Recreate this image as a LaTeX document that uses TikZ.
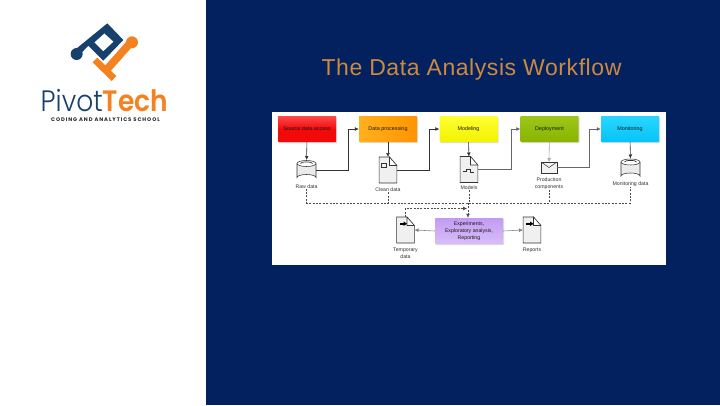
\documentclass[tikz,border=0pt]{standalone}
\usepackage{fontspec}
\setmainfont{Liberation Sans}
\newfontfamily\logofont{Poppins}
\usetikzlibrary{arrows.meta,shadows,positioning}
\definecolor{navy}{HTML}{03215F}
\definecolor{logoblue}{HTML}{17406D}
\definecolor{logoorange}{HTML}{F58220}
\definecolor{titleorange}{HTML}{CC8A3E}
\definecolor{stagered}{HTML}{F20A0A}
\definecolor{stageredl}{HTML}{FF4A4A}
\definecolor{stageor}{HTML}{FF9400}
\definecolor{stageorl}{HTML}{FFB01E}
\definecolor{stageye}{HTML}{F2F200}
\definecolor{stageyel}{HTML}{FFFF33}
\definecolor{stagegr}{HTML}{8AB400}
\definecolor{stagegrl}{HTML}{9CC61A}
\definecolor{stagecy}{HTML}{05C3F7}
\definecolor{stagecyl}{HTML}{2AD6FF}
\definecolor{stagepu}{HTML}{C39AF2}
\definecolor{stagepul}{HTML}{D8BEF8}
\tikzset{
  stagebox/.style={minimum width=58pt,minimum height=26pt,inner sep=0pt,rounded corners=0.6pt,font=\fontsize{5.4}{6}\selectfont,text=black!90,
    drop shadow={shadow xshift=1pt,shadow yshift=-1pt,fill=black!30,opacity=.45}},
  iconspot/.style={minimum width=#1,inner sep=0pt,outer sep=0pt},
  lbl/.style={font=\fontsize{5.2}{7}\selectfont,text=black!80,align=center,inner sep=0pt},
  link/.style={draw=black!80,line width=0.55pt,-{Latex[length=4pt,width=3.8pt]}},
  dlink/.style={draw=black!70,line width=0.45pt,dash pattern=on 2pt off 1.4pt},
  dlinkarrow/.style={dlink,-{Latex[length=4pt,width=3.8pt]}},
  iconline/.style={draw=black!80,line width=0.55pt,fill=white},
}
\newcommand{\cylicon}[1]{%
  \begin{scope}[shift={(#1.center)}]
    \fill[black!8] (-9.5,-7) -- (-9.5,7) arc[start angle=180,end angle=360,x radius=9.5,y radius=3] -- (9.5,-7) -- cycle;
    \draw[iconline,fill=none] (-9.5,-7) -- (-9.5,7) arc[start angle=180,end angle=360,x radius=9.5,y radius=3] -- (9.5,-7);
    \draw[iconline,fill=white] (0,-7) ellipse[x radius=9.5,y radius=3];
    \draw[draw=black!80,line width=0.7pt] (-6,-7) arc[start angle=180,end angle=360,x radius=6,y radius=1.6];
  \end{scope}}
\newcommand{\docicon}[2]{%
  \begin{scope}[shift={(#1.center)}]
    \draw[iconline,fill=black!6] (-8.8,-13) -- (1.5,-13) -- (8.8,-4.5) -- (8.8,13) -- (-8.8,13) -- cycle;
    \draw[iconline,fill=white] (1.5,-13) -- (1.5,-4.5) -- (8.8,-4.5) -- cycle;
    #2
  \end{scope}}
\begin{document}
\begin{tikzpicture}[x=1pt,y=-1pt]
\useasboundingbox (0,0) rectangle (720,405);
\fill[navy] (0,0) rectangle (720,405);
\fill[white] (0,0) rectangle (206,405);
% logo
\begin{scope}[shift={(20,15)},x=0.3333pt,y=-0.3333pt]
  \fill[logoblue,even odd rule] (262,25) -- (310,75) -- (250,137) -- (205,92) -- (172,127) -- (158,110) -- cycle
    (253,55) -- (281,80) -- (250,109) -- (223,82) -- cycle;
  \fill[logoblue] (170,117) circle[radius=18];
  \fill[logoorange] (232,128) -- (289,183) -- (275,198) -- (218,142) -- cycle;
  \fill[logoorange] (255,152) -- (328,70) -- (343,88) -- (272,168) -- cycle;
  \fill[logoorange] (336,82) circle[radius=18];
\end{scope}
\node[anchor=base west,inner sep=0pt,font=\logofont\fontsize{29.5}{30}\selectfont] (logotext) at (40.5,111.5)
  {\raisebox{0pt}[\height][0pt]{\scalebox{.9}[1]{\color{logoblue}\fontspec{Poppins Light}Pivot\color{logoorange}\fontspec{Poppins SemiBold}Tech}}};
\node[anchor=center,inner sep=0pt,font=\logofont\fontsize{5.2}{6}\selectfont\bfseries,text=black!85] (logosub) at (105.5,120)
  {\addfontfeature{LetterSpace=18}CODING AND ANALYTICS SCHOOL};
% title
\node[inner sep=0pt,font=\fontsize{23}{26}\selectfont,text=titleorange] (title) at (471.5,69.5)
  {\addfontfeature{LetterSpace=2.5}The Data Analysis Workflow};
% picture panel
\fill[white] (272,112) rectangle (666,265);
% stages
\node[stagebox,top color=stageredl,bottom color=stagered,middle color=stagered] (src) at (307,129) {Source data access};
\node[stagebox,left color=stageorl,right color=stageor] (proc) at (388,129) {Data processing};
\node[stagebox,top color=stageyel,bottom color=stageye] (mod) at (468.5,129) {Modeling};
\node[stagebox,top color=stagegrl,bottom color=stagegr] (dep) at (549.5,129) {Deployment};
\node[stagebox,top color=stagecyl,bottom color=stagecy] (mon) at (630,129) {Monitoring};
\node[stagebox,top color=stagepu,bottom color=stagepul,minimum width=68pt,font=\fontsize{5.2}{7}\selectfont,align=center] (exp) at (469,231) {Experiments,\\Exploratory analysis,\\Reporting};
% icons
\node[iconspot=19pt,minimum height=21pt] (raw) at (306.5,170.5) {};
\node[iconspot=18pt,minimum height=26pt] (clean) at (388,170) {};
\node[iconspot=18pt,minimum height=26pt] (models) at (469,169.5) {};
\node[iconspot=16pt,minimum height=11pt] (env) at (549,167.5) {};
\node[iconspot=19pt,minimum height=21pt] (mdata) at (630.5,169) {};
\node[iconspot=18pt,minimum height=26pt] (temp) at (405.5,230) {};
\node[iconspot=18pt,minimum height=26pt] (rep) at (532,230) {};
\cylicon{raw}
\cylicon{mdata}
\docicon{clean}{\draw[black!80,line width=.5pt] (-6.5,-7) rectangle (-1.5,-3);}
\docicon{models}{\draw[black!80,line width=.5pt] (-6,2) -- (-3,2) -- (-3,0) -- (1,0) -- (1,3) -- (5,3);}
\docicon{temp}{\fill[black] (-6,-7) rectangle (-2,-5.5); \fill[black] (-2,-8.5) -- (1.5,-6.2) -- (-2,-4) -- cycle;}
\docicon{rep}{\fill[black] (-6,-7) rectangle (-2,-5.5); \fill[black] (-2,-8.5) -- (1.5,-6.2) -- (-2,-4) -- cycle;}
\draw[iconline,fill=black!5] (env.north west) rectangle (env.south east);
\draw[black!80,line width=.5pt] (env.north west) -- (env.center) -- (env.north east);
% labels
\node[lbl] (lraw) at (306.5,186.5) {Raw data};
\node[lbl] (lclean) at (388,190) {Clean data};
\node[lbl] (lmodels) at (469,188) {Models};
\node[lbl] (lenv) at (549,183.5) {Production\\components};
\node[lbl] (lmdata) at (630.5,184) {Monitoring data};
\node[lbl] (ltemp) at (405.5,253.5) {Temporary\\data};
\node[lbl] (lrep) at (532,250) {Reports};
% solid connectors
\draw[link] (src) -- (raw);
\draw[link] (proc) -- (clean);
\draw[link] (mod) -- (models);
\draw[link,draw=black!35] (dep) -- (env);
\draw[link] (mon) -- (mdata);
\draw[link] (raw.east) -- ++(32,0) |- (proc.west);
\draw[link] (clean.east) -- ++(32,0) |- (mod.west);
\draw[link,draw=black!60] (models.east) -- ++(33,0) |- (dep.west);
\draw[link,draw=black!60] (env.east) -- ++(32,0) |- (mon.west);
\draw[link,draw=black!50] (exp.west) -- (temp.east);
\draw[link,draw=black!50] (exp.east) -- (rep.west);
% dashed bus
\coordinate (busL) at (306.5,203);
\coordinate (busR) at (630.5,203);
\coordinate (busM) at (468,203);
\draw[dlink] (lraw.south -| busL) -- (busL) -- (busR) -- (lmdata.south -| busR);
\draw[dlink] (lclean.south) -- (lclean.south |- busL);
\draw[dlink] (lmodels.south) -- (lmodels.south |- busL);
\draw[dlink] (lenv.south) -- (lenv.south |- busL);
\draw[dlinkarrow] (busM) -- (exp.north -| busM);
\coordinate (fbk) at (405,208.5);
\draw[dlinkarrow] (temp.north -| fbk) -- (fbk) -- ++(62,0);
\end{tikzpicture}
\end{document}
